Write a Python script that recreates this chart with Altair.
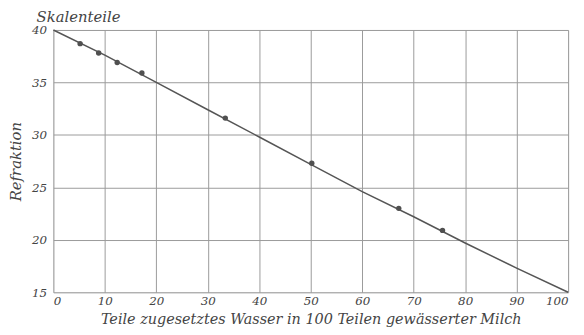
import altair as alt
import pandas as pd

# measured points
pt_x = [5.2, 8.8, 12.4, 17.2, 33.4, 50.2, 67.1, 75.6]
pt_y = [38.7, 37.8, 36.9, 35.9, 31.6, 27.3, 23.0, 20.9]

# drawn curve
curve_x = [0, 10, 20, 30, 40, 50, 60, 70, 80, 90, 100]
curve_y = [40, 37.6, 35.0, 32.4, 29.8, 27.2, 24.6, 22.2, 19.7, 17.3, 15]

x_ticks = [0, 10, 20, 30, 40, 50, 60, 70, 80, 90, 100]
y_ticks = [15, 20, 25, 30, 35, 40]

pts = pd.DataFrame({"x": pt_x, "y": pt_y})
crv = pd.DataFrame({"x": curve_x, "y": curve_y})

FONT = "DejaVu Serif"
INK = "#444444"

xs = alt.Scale(domain=[0, 100], nice=False)
ys = alt.Scale(domain=[15, 40], nice=False)

xax = alt.Axis(values=x_ticks, title="Teile zugesetztes Wasser in 100 Teilen gewässerter Milch",
               grid=True, gridColor="#9a9a9a", gridWidth=1, domain=False, ticks=False,
               labelFont=FONT, labelFontStyle="italic", labelFontSize=12, labelColor=INK,
               labelPadding=3, titleFont=FONT, titleFontStyle="italic", titleFontWeight="normal",
               titleFontSize=14.6, titleColor=INK, titlePadding=6)
yax = alt.Axis(values=y_ticks, title="Refraktion",
               grid=True, gridColor="#9a9a9a", gridWidth=1, domain=False, ticks=False,
               labelFont=FONT, labelFontStyle="italic", labelFontSize=12, labelColor=INK,
               labelPadding=7, labelBaseline="middle",
               titleFont=FONT, titleFontStyle="italic", titleFontWeight="normal",
               titleFontSize=15, titleColor=INK, titleX=-30, titleY=133)

line = alt.Chart(crv).mark_line(color="#555555", strokeWidth=1.5).encode(
    x=alt.X("x:Q", scale=xs, axis=xax),
    y=alt.Y("y:Q", scale=ys, axis=yax),
)
dots = alt.Chart(pts).mark_circle(color="#505050", size=30, opacity=1).encode(
    x=alt.X("x:Q", scale=xs),
    y=alt.Y("y:Q", scale=ys),
)

chart = (line + dots).properties(
    width=522, height=266,
    title=alt.TitleParams("Skalenteile", anchor="start", frame="group", dx=-17, dy=7, offset=6,
                          font=FONT, fontStyle="italic", fontWeight="normal", fontSize=15, color=INK),
    autosize=alt.AutoSizeParams(type="none"),
    padding={"left": 46, "top": 20, "right": 8, "bottom": 40},
).configure_view(stroke="#9a9a9a", strokeWidth=1).configure(background="white")

chart.save("out.html", embed_options={"renderer": "svg", "actions": False})
